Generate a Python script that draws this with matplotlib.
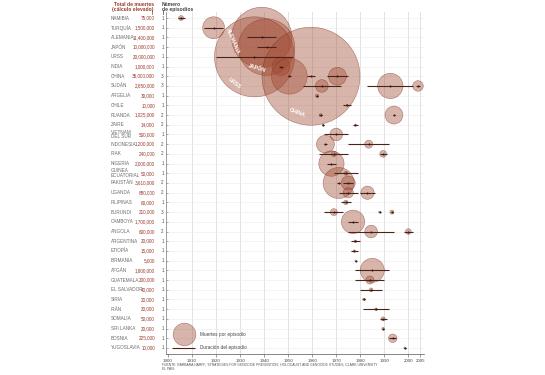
import matplotlib
matplotlib.use("Agg")
import matplotlib.pyplot as plt
from matplotlib.transforms import blended_transform_factory
from matplotlib import font_manager
import numpy as np

names = {f.name for f in font_manager.fontManager.ttflist}
narrow = 'Liberation Sans Narrow' if 'Liberation Sans Narrow' in names else 'Liberation Sans'
plt.rcParams['font.family'] = [narrow, 'DejaVu Sans']

countries = ["NAMIBIA", "TURQUÍA", "ALEMANIA", "JAPÓN", "URSS", "INDIA", "CHINA", "SUDÁN",
             "ARGELIA", "CHILE", "RUANDA", "ZAIRE", "VIETNAM\nDEL SUR", "INDONESIA", "IRAK",
             "NIGERIA", "GUINEA\nECUATORIAL", "PAKISTÁN", "UGANDA", "FILIPINAS", "BURUNDI",
             "CAMBOYA", "ANGOLA", "ARGENTINA", "ETIOPÍA", "BIRMANIA", "AFGÁN", "GUATEMALA",
             "EL SALVADOR", "SIRIA", "IRÁN", "SOMALIA", "SRI LANKA", "BOSNIA", "YUGOSLAVIA"]
total_deaths = ["75,000", "1,500,000", "11,400,000", "10,000,000", "20,000,000", "1,000,000",
                "35,000,000", "2,850,000", "30,000", "10,000", "1,025,000", "14,000", "500,000",
                "1,200,000", "240,000", "2,000,000", "50,000", "3,610,000", "880,000", "60,000",
                "210,000", "1,700,000", "600,000", "20,000", "15,000", "5,000", "1,800,000",
                "200,000", "40,000", "20,000", "20,000", "50,000", "20,000", "225,000", "10,000"]

# episodes: country index, start year, end year, deaths
ep_country = [0, 1, 2, 3, 4, 5, 6, 6, 6, 7, 7, 7, 8, 9, 10, 10, 11, 11, 12, 13, 13, 14, 14,
              15, 16, 17, 17, 18, 18, 19, 20, 20, 20, 21, 22, 22, 23, 24, 25, 26, 27, 28, 29,
              30, 31, 32, 33, 34]
ep_start = [1904, 1915, 1933, 1937, 1920, 1946, 1950, 1958, 1966, 1956, 1983, 2003, 1961.5,
            1973, 1963, 1993.5, 1964, 1977, 1965, 1965, 1975, 1963, 1988, 1966, 1969, 1970.5,
            1973, 1971, 1980, 1972, 1965, 1987.7, 1992.8, 1975, 1975, 1998, 1976, 1976, 1977.8,
            1978, 1978, 1980, 1981, 1981, 1988, 1989, 1992, 1998]
ep_end = [1907, 1923, 1945, 1945, 1952, 1948, 1951, 1961, 1975, 1972, 2002, 2005, 1962.5,
          1976, 1964, 1994.5, 1965, 1979, 1975, 1966, 1992, 1975, 1991, 1970, 1979, 1971.5,
          1977, 1979, 1986, 1976, 1973, 1988.3, 1993.5, 1979, 1994, 2002, 1980, 1979, 1978.3,
          1992, 1990, 1989, 1982, 1992, 1991, 1990, 1995, 1999]
ep_deaths = [75000, 1500000, 11400000, 10000000, 20000000, 1000000, 4000000, 30000000, 1000000,
             500000, 2000000, 350000, 30000, 10000, 25000, 1000000, 7000, 7000, 500000, 1000000,
             200000, 100000, 140000, 2000000, 50000, 3000000, 610000, 330000, 550000, 60000,
             150000, 10000, 50000, 1700000, 500000, 100000, 20000, 15000, 5000, 1800000, 200000,
             40000, 20000, 20000, 50000, 20000, 225000, 10000]

xticks = [1900, 1910, 1920, 1930, 1940, 1950, 1960, 1970, 1980, 1990, 2000, 2005]
circle_labels = {"ALEMANIA": (2, -29, 4, -67), "JAPÓN": (3, -9, 21, -17),
                 "URSS": (4, -20, 27, -38), "CHINA": (6, -14, 36, -21)}
legend_deaths = 1600000

W, H = 545, 375
fig = plt.figure(figsize=(W / 100, H / 100), dpi=100)
ax = fig.add_axes([166 / W, 1 - 354 / H, 258 / W, (354 - 12) / H])
n = len(countries)
ax.set_xlim(1899.2, 2006.5)
ax.set_ylim(34.62, -0.62)

SCALE = 1.66e-4  # points^2 per death (area proportional)
fill = (0.62, 0.28, 0.18, 0.40)
edge = (0.45, 0.15, 0.08, 0.55)

# grid
for xt in xticks[1:]:
    ax.axvline(xt, color='#d6d6d6', lw=0.5, zorder=0)
for i in range(n):
    ax.axhline(i, color='#ededed', lw=0.4, zorder=0)

starts = np.array(ep_start, float)
ends = np.array(ep_end, float)
mids = (starts + ends) / 2
ys = np.array(ep_country)
sizes = np.array(ep_deaths) * SCALE

ax.scatter(mids, ys, s=sizes, facecolor=fill, edgecolor=edge, linewidth=0.4, zorder=2,
           clip_on=False)
ax.hlines(ys, starts, ends, color='#4a2418', lw=0.8, zorder=3)
ax.scatter(mids, ys, s=2.2, color='#3a1a10', zorder=4, linewidth=0)

# labels along the big circles
for name, (ci, dx, dy, rot) in circle_labels.items():
    idx = [k for k in range(len(ep_country)) if ep_country[k] == ci]
    k = max(idx, key=lambda j: ep_deaths[j])
    ax.annotate(name, xy=(mids[k], ci), xytext=(dx * 0.72, -dy * 0.72),
                textcoords='offset points', ha='center', va='center', rotation=rot,
                fontsize=3.8, color='white', fontweight='bold', zorder=5)

# left labels
tr = blended_transform_factory(fig.transFigure, ax.transData)
ep_counts = [ep_country.count(i) for i in range(n)]
for i in range(n):
    ax.text(111 / W, i, countries[i], transform=tr, ha='left', va='center', fontsize=3.3,
            color='#6a6a6a', linespacing=0.9)
    ax.text(155 / W, i, total_deaths[i], transform=tr, ha='right', va='center', fontsize=3.3,
            color='#9b3a2a')
    ax.text(162.5 / W, i, str(ep_counts[i]), transform=tr, ha='center', va='center',
            fontsize=3.3, color='#555555')

fig.text(154 / W, 1 - 2 / H, "Total de muertes\n(cálculo elevado)", ha='right', va='top',
         fontsize=3.6, color='#9b3a2a', fontweight='bold', linespacing=0.95)
fig.text(162 / W, 1 - 2 / H, "Número\nde episodios", ha='left', va='top',
         fontsize=3.6, color='#444444', fontweight='bold', linespacing=0.95)
fig.add_artist(plt.Line2D([152 / W, 152 / W], [1 - 10 / H, 1 - 14 / H], color='#9b3a2a', lw=0.5))
fig.add_artist(plt.Line2D([163 / W, 163 / W], [1 - 10 / H, 1 - 14 / H], color='#444444', lw=0.5))

# legend
ax.scatter([1906.5], [32.6], s=legend_deaths * SCALE, facecolor=fill, edgecolor=edge,
           linewidth=0.4, zorder=2)
ax.hlines([34], 1901.7, 1911.3, color='#4a2418', lw=0.8, zorder=3)
ax.text(1913.3, 32.6, "Muertes por episodio", fontsize=3.4, va='center', color='#444444')
ax.text(1913.3, 34, "Duración del episodio", fontsize=3.4, va='center', color='#444444')

# axes styling
ax.set_xticks(xticks)
ax.set_xticklabels([str(x) for x in xticks], fontsize=3.2, color='#444444')
ax.set_yticks(range(n))
ax.set_yticklabels([])
ax.tick_params(axis='y', direction='in', length=1.5, width=0.4, color='#777777')
ax.tick_params(axis='x', length=2, width=0.4, color='#555555', pad=1.5)
for sp in ['top', 'right']:
    ax.spines[sp].set_visible(False)
ax.spines['left'].set_color('#777777')
ax.spines['left'].set_linewidth(0.5)
ax.spines['bottom'].set_color('#555555')
ax.spines['bottom'].set_linewidth(0.5)

fig.text(162 / W, 1 - 365 / H,
         "FUENTE: BARBARA HARFF, 'STRATEGIES FOR GENOCIDE PREVENTION', HOLOCAUST AND GENOCIDE STUDIES, CLARK UNIVERSITY",
         fontsize=2.4, color='#555555', va='center')
fig.text(162 / W, 1 - 369 / H, "EL PAÍS", fontsize=2.4, color='#555555', va='center')

fig.savefig("out.png", dpi=100, facecolor='white')
